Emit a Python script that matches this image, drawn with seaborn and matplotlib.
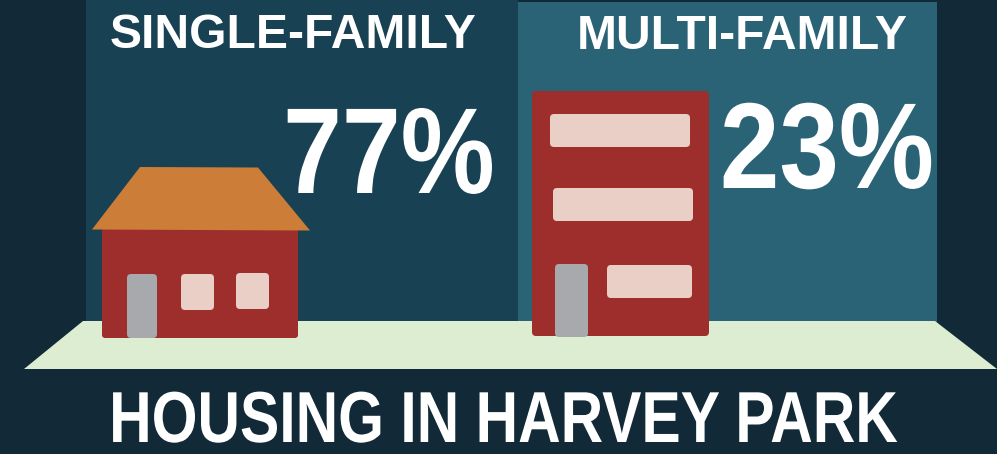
import matplotlib.pyplot as plt
from matplotlib.patches import FancyBboxPatch, Polygon
from matplotlib.patheffects import AbstractPathEffect
from matplotlib.transforms import Affine2D
import seaborn as sns

# Data
categories = ['SINGLE-FAMILY', 'MULTI-FAMILY']
shares = [77, 23]
title = 'HOUSING IN HARVEY PARK'

W, H = 997, 454
BG = '#122a38'
PANELS = ['#184253', '#2a6376']
GROUND = '#ddedd1'
RED = '#9e2e2c'
ROOF = '#cc7d38'
PALE = '#e9cfc6'
GREY = '#a8a9ad'

sns.set_theme(style='white')
plt.rcParams['font.family'] = ['Liberation Sans']

fig = plt.figure(figsize=(W / 100, H / 100), dpi=100, facecolor=BG)


class Stretch(AbstractPathEffect):
    # the reference uses a condensed bold, rescale the glyphs around the text anchor
    def __init__(self, anchor, sx, sy=1):
        super().__init__()
        self.cx = anchor[0]
        self.cy = H - anchor[1]
        self.sx = sx
        self.sy = sy

    def draw_path(self, renderer, gc, tpath, affine, rgbFace=None):
        scale = (Affine2D().translate(-self.cx, -self.cy)
                 .scale(self.sx, self.sy).translate(self.cx, self.cy))
        renderer.draw_path(gc, tpath, affine + scale, rgbFace)


def px_axes(left, top, right, bottom):
    return fig.add_axes([left / W, 1 - bottom / H, (right - left) / W, (bottom - top) / H])


# Back wall, one seaborn bar per category
panel_boxes = [(86, 0, 518, 330), (518, 2, 937, 330)]
for cat, box, col in zip(categories, panel_boxes, PANELS):
    ax = px_axes(*box)
    sns.barplot(x=[cat], y=[1], color=col, width=1, saturation=1, linewidth=0, ax=ax)
    ax.set_xlim(-0.5, 0.5)
    ax.set_ylim(0, 1)
    ax.axis('off')

# Overlay in pixel coordinates for the drawings and text
ov = fig.add_axes([0, 0, 1, 1])
ov.set_xlim(0, W)
ov.set_ylim(H, 0)
ov.axis('off')
ov.patch.set_alpha(0)


def rbox(x0, y0, x1, y1, color, r=4):
    ov.add_patch(FancyBboxPatch((x0 + r, y0 + r), x1 - x0 - 2 * r, y1 - y0 - 2 * r,
                                boxstyle=f'round,pad={r},rounding_size={r}',
                                fc=color, ec='none'))


# Ground
ov.add_patch(Polygon([(83, 321), (935, 321), (997, 369), (24, 369)], fc=GROUND, ec='none'))

# House
rbox(102, 228, 298, 338, RED, 3)
ov.add_patch(Polygon([(140, 167), (258, 167.5), (310, 230.5), (92, 229.5)], fc=ROOF, ec='none'))
rbox(127, 274, 157, 338, GREY)
rbox(181, 274, 214, 310, PALE)
rbox(236, 273, 269, 309, PALE)

# Apartment block
rbox(532, 91, 709, 336, RED)
rbox(550, 114, 690, 147, PALE)
rbox(553, 188, 693, 221, PALE)
rbox(607, 265, 692, 298, PALE)
rbox(555, 264, 588, 337, GREY)

# Text
ov.text(293, 48, categories[0], color='white', fontsize=34.6, fontweight='bold',
        ha='center', va='baseline')
ov.text(742, 49, categories[1], color='white', fontsize=34.6, fontweight='bold',
        ha='center', va='baseline')
ov.text(389, 193, f'{shares[0]}%', color='white', fontsize=88, fontweight='bold',
        ha='center', va='baseline', path_effects=[Stretch((389, 193), 0.865)])
ov.text(827, 188, f'{shares[1]}%', color='white', fontsize=88, fontweight='bold',
        ha='center', va='baseline', path_effects=[Stretch((827, 188), 0.875)])
ov.text(503, 442, title, color='white', fontsize=40, fontweight='bold',
        ha='center', va='baseline', path_effects=[Stretch((503, 442), 1.06, 1.3)])

fig.savefig('out.png', dpi=100, facecolor=BG)
